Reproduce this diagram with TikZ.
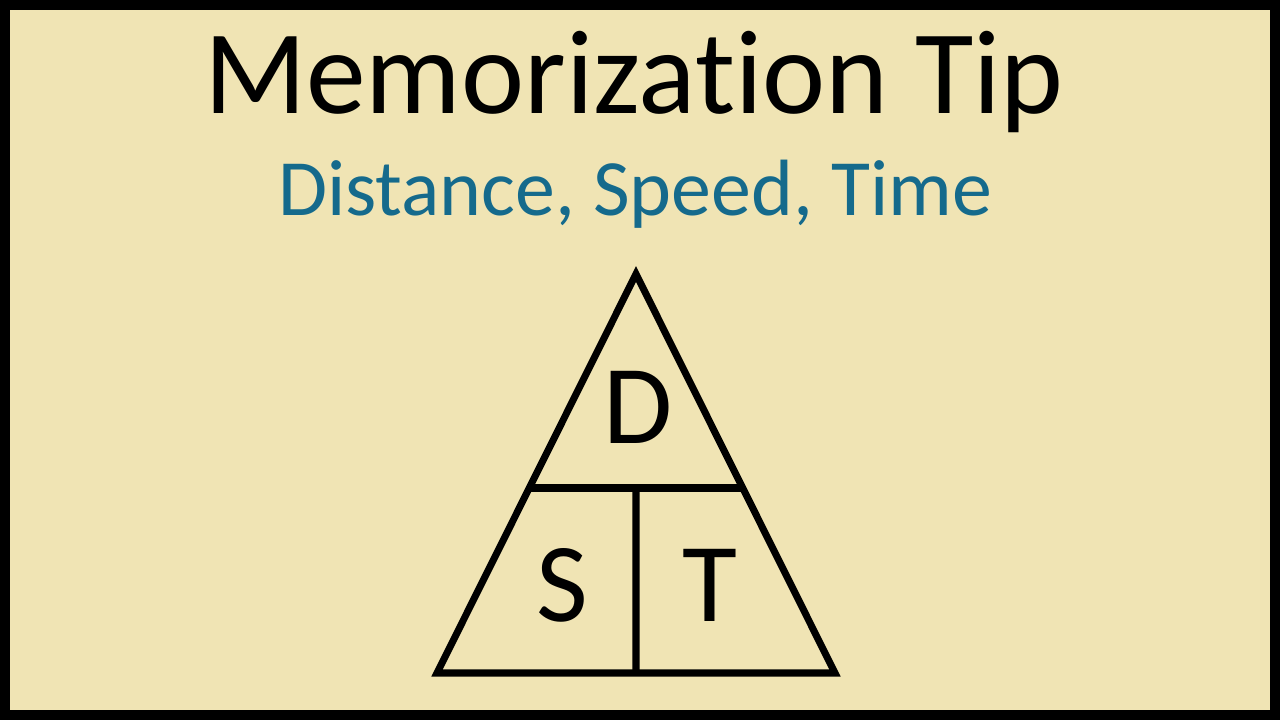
\documentclass[tikz,border=0pt]{standalone}
\usepackage{fontspec}
\setmainfont{Carlito}
\usepackage{tikz}
\usetikzlibrary{positioning}
\usetikzlibrary{calc}
\definecolor{paper}{HTML}{F0E4B4}
\definecolor{subblue}{HTML}{156A8C}
\tikzset{title/.style = {anchor=base, inner sep=0pt, font=\fontsize{34pt}{40pt}\selectfont},
         subtitle/.style = {anchor=base, inner sep=0pt, text=subblue, font=\fontsize{22.7pt}{27pt}\selectfont},
         letter/.style = {anchor=base, inner sep=0pt, font=\fontsize{32pt}{38pt}\selectfont},
         edge/.style = {line width=2pt, line join=miter, line cap=butt}}

\begin{document}
\begin{tikzpicture}[x=0.01cm, y=-0.01cm]
      \fill [paper] (0, 0) rectangle (1280, 720);
      \draw [line width=0.1cm] (5, 5) rectangle (1275, 715);
      \useasboundingbox (0, 0) rectangle (1280, 720);
      \node [title] (head) at (634, 113) {Memorizat\kern0pt ion Tip};
      \node [subtitle] (sub) at (635, 215) {Distance, Speed, Time};
      \coordinate (apex) at (636, 274);
      \coordinate (bl) at (437, 673);
      \coordinate (br) at (835, 673);
      \coordinate (ml) at ($(apex)!0.5363!(bl)$);
      \coordinate (mr) at ($(apex)!0.5363!(br)$);
      \coordinate (mid) at ($(ml)!0.5!(mr)$);
      \coordinate (bm) at ($(bl)!0.5!(br)$);
      \draw [edge] (apex) -- (bl) -- (br) -- cycle;
      \draw [edge] (ml) -- (mr);
      \draw [edge] (mid) -- (bm);
      \node [letter] (d) at (638, 443) {D};
      \node [letter] (s) at (562, 621) {S};
      \node [letter] (t) at (710, 621) {T};
    \end{tikzpicture}
\end{document}
